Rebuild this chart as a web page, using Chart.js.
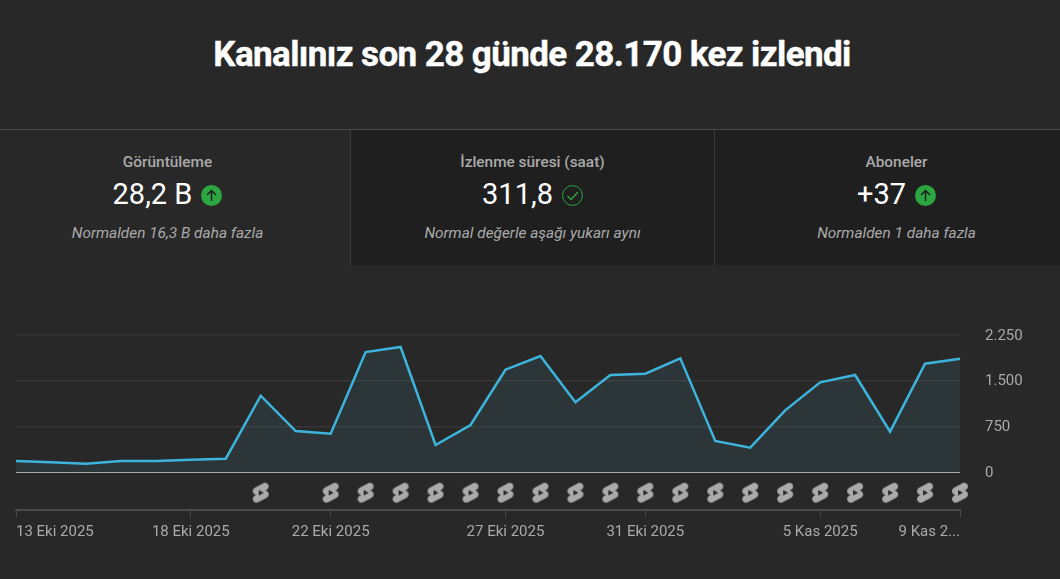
<!DOCTYPE html>
<html lang="tr"><head><meta charset="utf-8">
<script src="https://cdn.jsdelivr.net/npm/chart.js@4"></script>
<style>
html,body{margin:0;padding:0;background:#282828;width:1060px;height:579px;overflow:hidden;font-family:Roboto,sans-serif}
h1{position:absolute;left:0;width:1064px;top:34px;margin:0;text-align:center;color:#fff;font-size:35px;line-height:42px;font-weight:700;letter-spacing:-.6px;-webkit-text-stroke:.4px #fff}
.rule{position:absolute;left:0;top:129px;width:1060px;height:1px;background:#4a4a4a}
.card{position:absolute;top:130px;height:135px;width:363px;text-align:center}
.card .l{position:absolute;left:0;right:0;top:23px;font-size:15.4px;line-height:18px;font-weight:500;color:#aaa}
.card .v{position:absolute;left:0;right:0;top:45px;height:38px;display:flex;justify-content:center;align-items:center;gap:9px;font-size:29px;color:#fff}
.card .n{position:absolute;left:0;right:0;top:94px;font-size:15.4px;line-height:18px;font-style:italic;color:#aaa}
.card svg{display:block;margin-top:3px}
canvas{position:absolute;left:0;top:0}
</style></head><body>
<h1>Kanalınız son 28 günde 28.170 kez izlendi</h1>
<div class="rule"></div>
<div class="card" style="left:-14px"><div class="l">Görüntüleme</div><div class="v"><span>28,2 B</span><svg width="21" height="21" viewBox="0 0 21 21"><circle cx="10.5" cy="10.5" r="10.5" fill="#2ba640"/><path d="M10.5 16V5.5M6 10l4.5-4.5L15 10" fill="none" stroke="#1f1f1f" stroke-width="1.5"/></svg></div><div class="n">Normalden 16,3 B daha fazla</div></div>
<div class="card" style="left:351px;background:#1f1f1f;border-left:1px solid #3a3a3a;margin-left:-1px"><div class="l">İzlenme süresi (saat)</div><div class="v"><span>311,8</span><svg width="21" height="21" viewBox="0 0 21 21"><circle cx="10.5" cy="10.5" r="9.9" fill="none" stroke="#2ba640" stroke-width="1"/><path d="M5.5 11l3.5 3.5 7-7.5" fill="none" stroke="#2ba640" stroke-width="1.5"/></svg></div><div class="n">Normal değerle aşağı yukarı aynı</div></div>
<div class="card" style="left:715px;background:#1f1f1f;border-left:1px solid #3a3a3a;margin-left:-1px"><div class="l">Aboneler</div><div class="v"><span>+37</span><svg width="21" height="21" viewBox="0 0 21 21"><circle cx="10.5" cy="10.5" r="10.5" fill="#2ba640"/><path d="M10.5 16V5.5M6 10l4.5-4.5L15 10" fill="none" stroke="#1f1f1f" stroke-width="1.5"/></svg></div><div class="n">Normalden 1 daha fazla</div></div>
<canvas id="c" width="1060" height="579"></canvas>
<script>
const categories = ['13 Eki 2025','14 Eki 2025','15 Eki 2025','16 Eki 2025','17 Eki 2025','18 Eki 2025','19 Eki 2025','20 Eki 2025','21 Eki 2025','22 Eki 2025','23 Eki 2025','24 Eki 2025','25 Eki 2025','26 Eki 2025','27 Eki 2025','28 Eki 2025','29 Eki 2025','30 Eki 2025','31 Eki 2025','1 Kas 2025','2 Kas 2025','3 Kas 2025','4 Kas 2025','5 Kas 2025','6 Kas 2025','7 Kas 2025','8 Kas 2025','9 Kas 2...'];
const views = [181,159,137,181,181,200,219,1253,673,630,1970,2053,443,772,1680,1905,1144,1593,1615,1867,509,400,1013,1472,1593,662,1779,1861];
const hasShort = [0,0,0,0,0,0,0,1,0,1,1,1,1,1,1,1,1,1,1,1,1,1,1,1,1,1,1,1];
const shownDays = ['13 Eki 2025','18 Eki 2025','22 Eki 2025','27 Eki 2025','31 Eki 2025','5 Kas 2025','9 Kas 2...'];
const yTicks = [0,750,1500,2250];
const iconLane = -340, axisFloor = -624;

const icon = document.createElement('canvas');
icon.width = icon.height = 24;
const g = icon.getContext('2d');
g.fillStyle = '#aaaaaa';
g.fill(new Path2D('M17.77 10.32l-1.2-.5L18 9.06c1.84-.96 2.53-3.23 1.56-5.06s-3.24-2.53-5.07-1.56L6 6.94c-1.29.68-2.07 2.04-2 3.49.07 1.42.93 2.67 2.22 3.25.03.01 1.2.5 1.2.5L6 14.93c-1.83.97-2.53 3.24-1.56 5.07.97 1.83 3.24 2.53 5.07 1.56l8.5-4.5c1.29-.68 2.06-2.04 1.99-3.49-.07-1.42-.94-2.68-2.23-3.25zM10 14.65v-5.3L15 12l-5 2.65z'));

Chart.defaults.font.family = 'Roboto, sans-serif';
new Chart(document.getElementById('c'), {
  type: 'line',
  data: { labels: categories, datasets: [
    { data: views, borderColor: '#3cb4dc', borderWidth: 2.5, backgroundColor: 'rgba(80,170,200,0.11)', fill: 'origin', tension: 0, pointRadius: 0, borderJoinStyle: 'miter' },
    { data: hasShort.map(f => f ? iconLane : null), showLine: false, pointStyle: icon, pointRadius: 12, fill: false, clip: false }
  ]},
  options: {
    responsive: false, animation: false, devicePixelRatio: 1,
    layout: { padding: { left: 16, top: 335, right: 0, bottom: 0 } },
    plugins: { legend: { display: false }, tooltip: { enabled: false } },
    scales: {
      x: {
        type: 'category',
        afterBuildTicks(s) { s.ticks = s.ticks.filter(t => shownDays.includes(categories[t.value])); },
        afterFit(s) { s.height = 69; },
        border: { color: '#4a4a4a', width: 2 },
        grid: { drawOnChartArea: false, drawTicks: true, tickLength: 7, tickColor: '#4a4a4a', tickWidth: 1 },
        ticks: { autoSkip: false, maxRotation: 0, minRotation: 0, align: 'inner', color: '#aaa', font: { size: 15 }, padding: 6,
          callback(v) { return categories[v]; } }
      },
      y: {
        position: 'right', min: axisFloor, max: 2250,
        afterBuildTicks(s) { s.ticks = yTicks.map(value => ({ value })); },
        afterFit(s) { s.width = 100; },
        border: { display: false },
        grid: { drawTicks: false, lineWidth: c => c.tick && c.tick.value === 0 ? 1 : 1.5, color: c => c.tick && c.tick.value === 0 ? '#a8a8a8' : '#363636' },
        ticks: { color: '#aaa', font: { size: 15 }, padding: 25, labelOffset: 1, callback: v => v === 0 ? '0' : v.toLocaleString('de-DE') }
      }
    }
  }
});
</script>
</body></html>
